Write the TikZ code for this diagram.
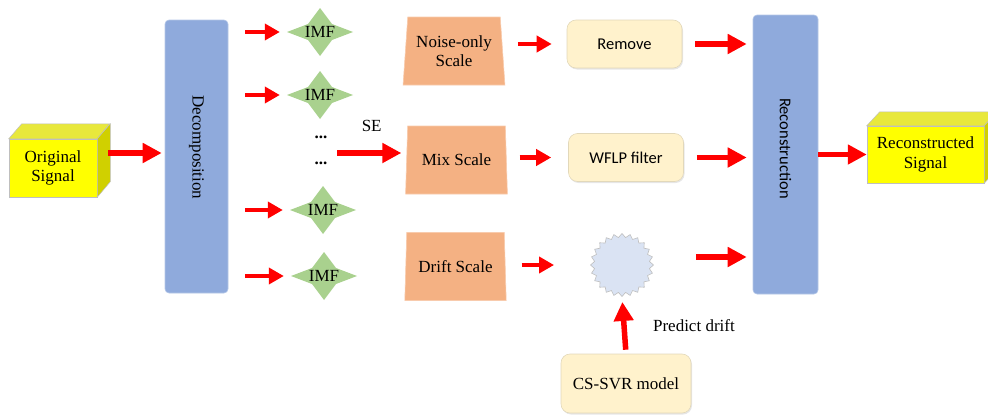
\documentclass[tikz,border=0pt]{standalone}
\usepackage{fontspec}
\setmainfont{Liberation Serif}
\setsansfont{Carlito}
\usepackage{xcolor}
\usepackage{tikz}
\usetikzlibrary{positioning, calc, arrows.meta, shapes.geometric, shadows}
\definecolor{Block}{RGB}{143, 170, 220}
\definecolor{BlockEdge}{RGB}{180, 199, 231}
\definecolor{Leaf}{RGB}{169, 209, 142}
\definecolor{Band}{RGB}{244, 177, 131}
\definecolor{BandEdge}{RGB}{248, 203, 173}
\definecolor{Cream}{RGB}{255, 242, 204}
\definecolor{CreamEdge}{RGB}{226, 216, 186}
\definecolor{Burst}{RGB}{218, 227, 243}
\definecolor{BurstEdge}{RGB}{191, 191, 191}
\definecolor{Cube}{RGB}{255, 255, 0}
\definecolor{CubeTop}{RGB}{232, 232, 60}
\definecolor{CubeSide}{RGB}{208, 208, 0}
\definecolor{Flow}{RGB}{255, 0, 0}

\begin{document}
\begin{tikzpicture}[
    x=1pt, y=-1pt,
    cube/.style={rectangle, draw=BurstEdge, fill=Cube, line width=0.5pt, align=center,
                 font=\fontsize{17}{19.5}\selectfont, inner sep=0pt},
    face/.style={draw=BurstEdge, line width=0.5pt},
    bar/.style={rectangle, rounded corners=4pt, draw=BlockEdge, fill=Block, line width=0.6pt,
                minimum width=63pt, inner sep=0pt},
    imf/.style={rectangle, minimum width=66pt, minimum height=48pt, inner sep=0pt,
                font=\fontsize{17}{19.5}\selectfont,
                path picture={\fill[Leaf] ($(path picture bounding box.center)+(-33pt,0pt)$)
                    -- ++(21pt,8pt) -- ++(12pt,16pt) -- ++(12pt,-16pt) -- ++(21pt,-8pt)
                    -- ++(-21pt,-8pt) -- ++(-12pt,-16pt) -- ++(-12pt,16pt) -- cycle;}},
    band/.style={trapezium, trapezium left angle=83, trapezium right angle=83, trapezium stretches=true,
                 minimum width=102pt, minimum height=68pt, draw=BandEdge, fill=Band, line width=0.6pt,
                 align=center, font=\fontsize{17}{19.5}\selectfont, inner sep=0pt},
    filt/.style={rectangle, rounded corners=9pt, draw=CreamEdge, fill=Cream, line width=0.6pt,
                 minimum width=115pt, minimum height=48pt, font=\sffamily\fontsize{16.5}{19}\selectfont,
                 drop shadow={shadow xshift=1pt, shadow yshift=-1.5pt, opacity=0.2}},
    burst/.style={star, star points=24, star point ratio=1.14, minimum size=63pt,
                  draw=BurstEdge, fill=Burst, line width=0.6pt, inner sep=0pt},
    dots/.style={font=\bfseries\fontsize{17}{19.5}\selectfont, inner sep=1pt},
    lbl/.style={font=\fontsize{17}{19.5}\selectfont, text=black},
    arr/.style={-{Triangle[length=19pt, width=19pt]}, line width=5.5pt, Flow},
    arrs/.style={-{Triangle[length=15pt, width=16pt]}, line width=4.5pt, Flow},
]
\useasboundingbox (0,0) rectangle (988,415);

\node[cube, minimum width=88pt, minimum height=58pt] (orig) at (53,168) {Original\\Signal};
\fill[CubeTop, face] (orig.north west) -- ++(13,-15) -- ++(88,0) -- (orig.north east) -- cycle;
\fill[CubeSide, face] (orig.north east) -- ++(13,-15) -- ++(0,58) -- (orig.south east) -- cycle;

\node[bar, minimum height=273pt] (dec) at (196.5,156.5) {};
\node[lbl, rotate=-90] (dectxt) at ([yshift=9pt]dec.center) {Decomposition};

\node[imf] (imf1) at (320,32) {IMF};
\node[imf] (imf2) at (320,95) {IMF};
\node[imf] (imf3) at (323,210) {IMF};
\node[imf] (imf4) at (324,276) {IMF};
\node[dots] (dots1) at (321,137) {...};
\node[dots] (dots2) at (321,163) {...};

\node[band] (noise) at (454,51) {Noise-only\\Scale};
\node[band] (mix) at (456.5,160) {Mix Scale};
\node[band] (drift) at (455.5,266.5) {Drift Scale};

\node[filt] (rem) at (624.5,44) {Remove};
\node[filt] (wflp) at (626,157.5) {WFLP filter};
\node[burst] (burst) at (622,265) {};
\node[filt, minimum width=130pt, minimum height=59pt, font=\fontsize{17}{19.5}\selectfont] (svr) at (626,383.5) {CS-SVR model};

\node[bar, minimum width=65pt, minimum height=279pt] (rec) at (785.5,154.5) {};
\node[lbl, font=\sffamily\fontsize{16.5}{19}\selectfont, rotate=-90] (rectxt) at ([yshift=6pt]rec.center) {Reconstruction};

\node[cube, minimum width=117pt, minimum height=57pt] (out) at (925.5,154.5) {Reconstructed\\Signal};
\fill[CubeTop, face] (out.north west) -- ++(13,-14) -- ++(117,0) -- (out.north east) -- cycle;
\fill[CubeSide, face] (out.north east) -- ++(13,-14) -- ++(0,57) -- (out.south east) -- cycle;

\coordinate (origout) at ($(orig.east)+(11pt,15pt)$);
\draw[arr, shorten >=3pt] (origout) -- (origout -| dec.west);
\foreach \i in {1,...,4}
  \draw[arrs, shorten <=17pt, shorten >=7pt] (dec.east |- imf\i.west) -- (imf\i.west);

\coordinate (se) at (337,153);
\draw[arr, shorten >=5pt] (se) -- (se -| mix.west) node[lbl, midway, above=15pt] (selbl) {SE};

\draw[arrs, shorten <=15pt, shorten >=15pt] (noise.east |- rem.west) -- (rem.west);
\draw[arrs, shorten <=13pt, shorten >=17pt] (mix.east |- wflp.west) -- (wflp.west);
\draw[arrs, shorten <=16pt, shorten >=36pt] (drift.east |- burst.west) -- (burst.west);

\draw[arr, shorten <=13pt, shorten >=6pt] (rem.east) -- (rem.east -| rec.west);
\draw[arr, shorten <=13pt, shorten >=6pt] (wflp.east) -- (wflp.east -| rec.west);
\coordinate (burstout) at ($(burst.east)+(42pt,8pt)$);
\draw[arr, shorten >=6pt] (burstout) -- (burstout -| rec.west);

\draw[arr, shorten <=4pt, shorten >=5pt] (svr.north) -- (burst.south) node[lbl, midway, right=23pt] (pdlbl) {Predict drift};

\draw[arr] (rec.east |- out.west) -- (out.west);
\end{tikzpicture}
\end{document}
